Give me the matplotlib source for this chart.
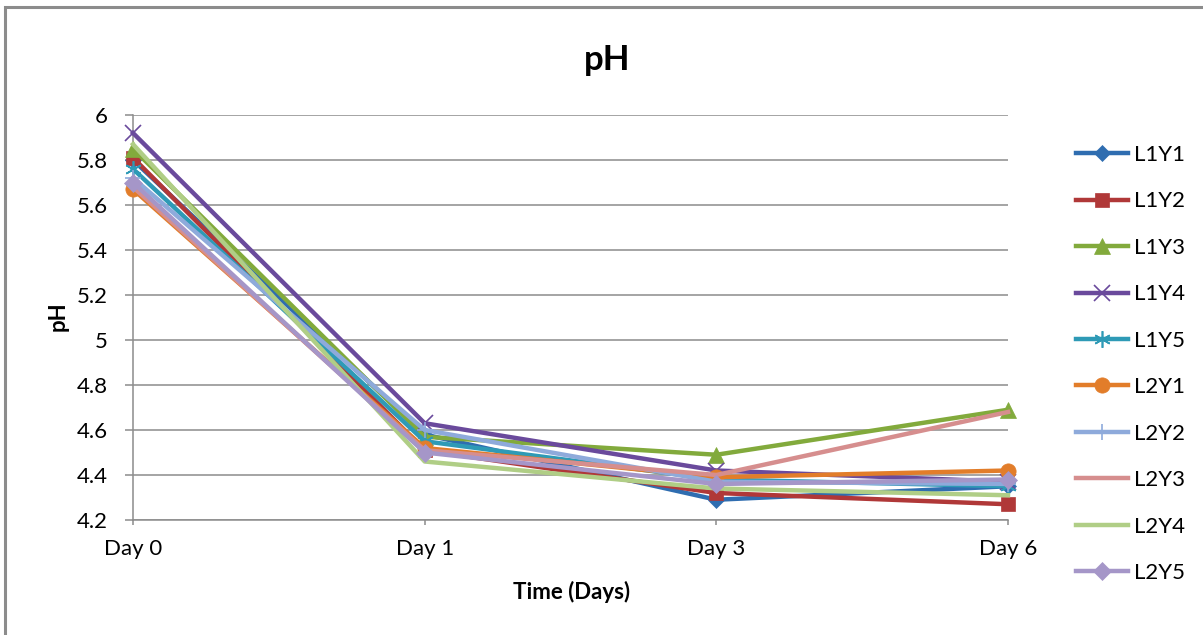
import matplotlib
matplotlib.use("Agg")
import matplotlib.pyplot as plt
from matplotlib.patches import Rectangle

days = ["Day 0", "Day 1", "Day 3", "Day 6"]
series_names = ["L1Y1", "L1Y2", "L1Y3", "L1Y4", "L1Y5",
                "L2Y1", "L2Y2", "L2Y3", "L2Y4", "L2Y5"]
L1Y1 = [5.80, 4.58, 4.29, 4.35]
L1Y2 = [5.81, 4.51, 4.32, 4.27]
L1Y3 = [5.85, 4.57, 4.49, 4.69]
L1Y4 = [5.92, 4.63, 4.42, 4.37]
L1Y5 = [5.76, 4.55, 4.38, 4.35]
L2Y1 = [5.67, 4.52, 4.39, 4.42]
L2Y2 = [5.72, 4.60, 4.37, 4.36]
L2Y3 = [5.68, 4.51, 4.40, 4.68]
L2Y4 = [5.87, 4.46, 4.34, 4.31]
L2Y5 = [5.70, 4.50, 4.36, 4.38]
values = [L1Y1, L1Y2, L1Y3, L1Y4, L1Y5, L2Y1, L2Y2, L2Y3, L2Y4, L2Y5]

colors = ["#2F6DB0", "#B03838", "#82AA3C", "#6A4A9C", "#2E9AB6",
          "#E27D2A", "#8EAADB", "#D68E8E", "#B0CE86", "#A596C8"]
markers = ["D", "s", "^", "x", (6, 2, 0), "o", "+", None, None, "D"]
msizes = [8.5, 10, 11, 12, 12, 11, 12, 0, 0, 9.5]

plt.rcParams['font.family'] = ['Lato', 'DejaVu Sans']
fig = plt.figure(figsize=(12.03, 6.35), dpi=100)
fig.patches.append(Rectangle((5/1203, -0.2), 1.5, 0.2 + (635-7)/635, transform=fig.transFigure,
                             fill=False, edgecolor="#8c8c8c", linewidth=2.2, zorder=0))

ax = fig.add_axes([133/1203, (635-520)/635, (1008-133)/1203, (520-115)/635])
x = list(range(len(days)))
for name, v, c, m, ms in zip(series_names, values, colors, markers, msizes):
    ax.plot(x, v, color=c, lw=3.2, marker=m, markersize=ms,
            markeredgewidth=1.2 if m in ("x", "+", (6, 2, 0)) else 0.5,
            markeredgecolor=c, label=name, clip_on=False, zorder=3)

ax.set_xlim(0, 3)
ax.set_ylim(4.2, 6.0)
ax.set_xticks(x)
ax.set_xticklabels(days)
ax.set_yticks([4.2, 4.4, 4.6, 4.8, 5.0, 5.2, 5.4, 5.6, 5.8, 6.0])
ax.set_yticklabels(["4.2", "4.4", "4.6", "4.8", "5", "5.2", "5.4", "5.6", "5.8", "6"])
ax.yaxis.grid(True, color="#8c8c8c", linewidth=1.1)
ax.set_axisbelow(True)
for s in ["top", "right"]:
    ax.spines[s].set_visible(False)
for s in ["left", "bottom"]:
    ax.spines[s].set_color("#8c8c8c")
    ax.spines[s].set_linewidth(1.1)
ax.tick_params(axis="both", colors="#8c8c8c", labelcolor="black", labelsize=16,
               width=1.1)
ax.tick_params(axis="y", length=6, pad=12)
ax.tick_params(axis="x", length=3.5, pad=10.5)

fig.text(572/1203, 1 - 592/635, "Time (Days)", ha="center", va="center",
         fontsize=16, fontweight="bold")
fig.text(58/1203, 1 - 316/635, "pH", ha="center", va="center", rotation=90,
         fontsize=16, fontweight="bold")
fig.text(607/1203, 1 - 60/635, "pH", ha="center", va="center",
         fontsize=25, fontweight="bold")

leg = ax.legend(loc="upper left", bbox_to_anchor=(1076/1203, 1 - 145/635),
                bbox_transform=fig.transFigure, frameon=False, fontsize=16,
                handlelength=2.35, labelspacing=1.19, handletextpad=0.25,
                borderpad=0, borderaxespad=0)

fig.savefig("out.png", dpi=100)
